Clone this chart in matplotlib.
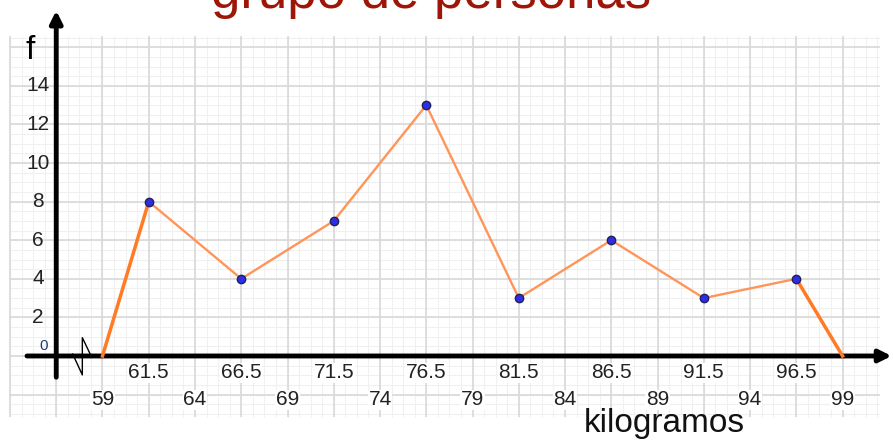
import numpy as np
import matplotlib
matplotlib.use('Agg')
import matplotlib.pyplot as plt

plt.rcParams['font.family'] = ['Liberation Sans', 'DejaVu Sans']

# datos del poligono de frecuencias
marcas = [59, 61.5, 66.5, 71.5, 76.5, 81.5, 86.5, 91.5, 96.5, 99]
frec   = [0, 8, 4, 7, 13, 3, 6, 3, 4, 0]

x_arriba = [61.5, 66.5, 71.5, 76.5, 81.5, 86.5, 91.5, 96.5]
x_abajo  = [59, 64, 69, 74, 79, 84, 89, 94, 99]
y_ticks  = [2, 4, 6, 8, 10, 12, 14]

titulo = "grupo de personas"
xlabel = "kilogramos"
ylabel = "f"

fig = plt.figure(figsize=(8.94, 4.43), dpi=100)
ax = fig.add_axes([0, 0, 1, 1])
ax.set_xlim(53.46, 101.78)
ax.set_ylim(-4.51, 18.45)
ax.axis('off')

# cuadricula
gx0, gx1 = 54, 101
gy0, gy1 = -3.16, 16.6
ax.vlines(np.arange(gx0, gx1 + 0.01, 0.625), gy0, gy1, color='#f0f0f0', lw=0.8, zorder=0)
ax.hlines(np.arange(-3, gy1, 0.5), gx0, gx1, color='#f0f0f0', lw=0.8, zorder=0)
ax.vlines(np.arange(gx0, gx1 + 0.01, 2.5), gy0, gy1, color='#d9d9d9', lw=1.2, zorder=1)
ax.hlines(np.arange(-2, gy1, 2), gx0, gx1, color='#d9d9d9', lw=1.2, zorder=1)

# ejes con flecha
ax.annotate('', xy=(101.65, 0), xytext=(54.92, 0),
            arrowprops=dict(arrowstyle='-|>', lw=3.5, color='k', mutation_scale=18,
                            shrinkA=0, shrinkB=0), zorder=5)
ax.annotate('', xy=(56.5, 17.9), xytext=(56.5, -1.1),
            arrowprops=dict(arrowstyle='-|>', lw=3.5, color='k', mutation_scale=18,
                            shrinkA=0, shrinkB=0), zorder=5)

# simbolo de corte del eje
ax.plot([57.39, 57.91, 57.91, 58.42], [0.10, -0.98, 0.95, -0.07], color='k', lw=1, zorder=6)

# poligono
ax.plot(marcas[:2], frec[:2], color='#ff7b26', lw=2.5, zorder=7)
ax.plot(marcas[-2:], frec[-2:], color='#ff7b26', lw=2.5, zorder=7)
ax.plot(marcas[1:-1], frec[1:-1], color='#ff9558', lw=1.7, zorder=7)
ax.plot(marcas[1:-1], frec[1:-1], 'o', ms=6, mfc='#2e2ee8', mec='#20205a', mew=1, zorder=8)

# etiquetas
caja = dict(facecolor='white', edgecolor='none', pad=0.5)
for v in x_arriba:
    ax.text(v, -0.88, f"{v}", ha='center', va='center', fontsize=15, color='#222222', bbox=caja, zorder=4)
for v in x_abajo:
    ax.text(v, -2.28, f"{v}", ha='center', va='center', fontsize=15, color='#222222', bbox=caja, zorder=4)
for v in y_ticks:
    ax.text(55.51, v, f"{v}", ha='center', va='center', fontsize=15, color='#222222', zorder=4)
ax.text(55.81, 0.5, "0", ha='center', va='center', fontsize=11, color='#1c3b78', zorder=4)

ax.text(55.08, 15.85, ylabel, ha='center', va='center', fontsize=24, color='k')
ax.text(89.35, -3.5, xlabel, ha='center', va='center', fontsize=24, color='#111111')
ax.text(76.76, 18.45 - 8 / 19.3, titulo, ha='center', va='baseline', fontsize=38, color='#9e1608')

fig.savefig('out.png', dpi=100)
